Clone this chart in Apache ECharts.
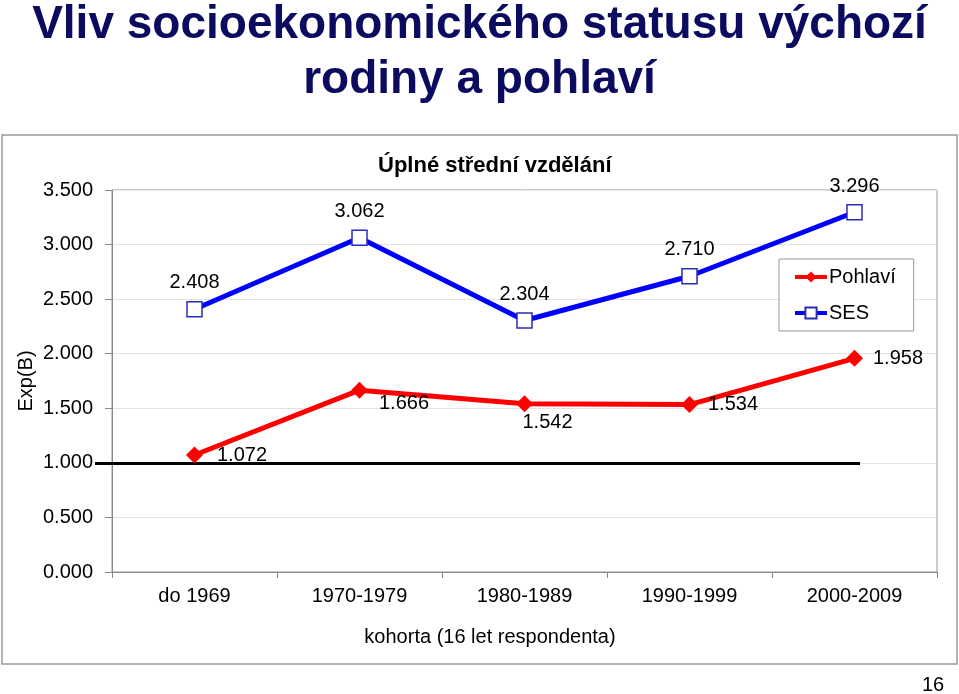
<!DOCTYPE html>
<html>
<head>
<meta charset="utf-8">
<script src="https://cdn.jsdelivr.net/npm/echarts@6/dist/echarts.min.js"></script>
<style>
html,body{margin:0;padding:0;background:#fff;}
#chart{width:959px;height:694px;}
</style>
</head>
<body>
<div id="chart"></div>
<script>
var categories = ['do 1969', '1970-1979', '1980-1989', '1990-1999', '2000-2009'];
var sesValues = [2.408, 3.062, 2.304, 2.710, 3.296];
var pohlaviValues = [1.072, 1.666, 1.542, 1.534, 1.958];
var referenceValue = 1.0;
var yTicks = { min: 0, max: 3.5, interval: 0.5 };

var FONT = '"Liberation Sans", Arial, sans-serif';

// label placement for Pohlaví points (styling only)
var pohlaviLabelStyle = [
  { position: 'right', distance: 14, offset: [0, 0] },
  { position: 'right', distance: 11, offset: [0, 13] },
  { position: 'bottom', distance: 0, offset: [23, 0] },
  { position: 'right', distance: 10, offset: [0, 0] },
  { position: 'right', distance: 10, offset: [0, 0] }
];

var chart = echarts.init(document.getElementById('chart'));
var fmt3 = function (v) { return Number(v).toFixed(3); };

var option = {
  animation: false,
  backgroundColor: '#ffffff',
  title: [
    {
      text: 'Vliv socioekonomického statusu výchozí\nrodiny a pohlaví',
      left: 'center',
      top: -7,
      textStyle: { fontFamily: FONT, fontSize: 46, fontWeight: 'bold', color: '#0b0b60', lineHeight: 55, align: 'center' }
    },
    {
      text: 'Úplné střední vzdělání',
      left: 373,
      top: 150,
      textStyle: { fontFamily: FONT, fontSize: 22, fontWeight: 'bold', color: '#000' }
    },
    {
      text: '16',
      left: 917,
      top: 670,
      textStyle: { fontFamily: FONT, fontSize: 20, fontWeight: 'normal', color: '#000' }
    }
  ],
  graphic: [
    {
      type: 'rect',
      shape: { x: 2, y: 135, width: 955, height: 529 },
      style: { fill: 'none', stroke: '#9a9a9a', lineWidth: 1.5 },
      silent: true,
      z: -1
    }
  ],
  legend: {
    orient: 'vertical',
    left: 779,
    top: 259,
    padding: [8, 18, 8, 14],
    itemGap: 16,
    itemWidth: 32,
    itemHeight: 14,
    borderColor: '#999',
    borderWidth: 1,
    backgroundColor: '#fff',
    textStyle: { fontFamily: FONT, fontSize: 20, color: '#000', padding: [0, 0, 0, -3] },
    data: [
      { name: 'Pohlaví', lineStyle: { width: 4, color: '#ff0000' } },
      { name: 'SES', lineStyle: { width: 4, color: '#0000ff' } }
    ]
  },
  grid: {
    left: 112,
    right: 22,
    top: 190,
    bottom: 122,
    show: true,
    borderColor: '#999',
    borderWidth: 1
  },
  xAxis: {
    type: 'category',
    data: categories,
    boundaryGap: true,
    name: 'kohorta (16 let respondenta)',
    nameLocation: 'middle',
    nameGap: 55,
    nameMoveOverlap: false,
    nameTextStyle: { fontFamily: FONT, fontSize: 20, color: '#000', padding: [0, 69, 0, 0] },
    axisLine: { show: true, lineStyle: { color: '#888', width: 1 } },
    axisTick: { show: true, length: 6, lineStyle: { color: '#888' } },
    axisLabel: { fontFamily: FONT, fontSize: 20, color: '#000', margin: 14 },
    splitLine: { show: false }
  },
  yAxis: {
    type: 'value',
    min: yTicks.min,
    max: yTicks.max,
    interval: yTicks.interval,
    name: 'Exp(B)',
    nameLocation: 'middle',
    nameGap: 76,
    nameMoveOverlap: false,
    nameRotate: 90,
    nameTextStyle: { fontFamily: FONT, fontSize: 20, color: '#000' },
    axisLine: { show: true, lineStyle: { color: '#888', width: 1 } },
    axisTick: { show: true, length: 7, lineStyle: { color: '#888' } },
    axisLabel: { fontFamily: FONT, fontSize: 20, color: '#000', margin: 19, formatter: fmt3 },
    splitLine: { show: true, lineStyle: { color: '#e2e2e2', width: 1 } }
  },
  series: [
    {
      name: 'Pohlaví',
      type: 'line',
      data: pohlaviValues.map(function (v, i) {
        var s = pohlaviLabelStyle[i];
        return { value: v, label: { position: s.position, distance: s.distance, offset: s.offset } };
      }),
      symbol: 'diamond',
      symbolSize: 17,
      lineStyle: { color: '#ff0000', width: 5 },
      itemStyle: { color: '#ff0000' },
      label: { show: true, formatter: function (p) { return fmt3(p.value); }, fontFamily: FONT, fontSize: 20, color: '#000' },
      z: 3,
      markLine: {
        silent: true,
        symbol: ['none', 'none'],
        label: { show: false },
        lineStyle: { color: '#000', width: 3, type: 'solid' },
        data: [[{ x: 95, yAxis: referenceValue }, { x: 860, yAxis: referenceValue }]],
        z: 2
      }
    },
    {
      name: 'SES',
      type: 'line',
      data: sesValues,
      symbol: 'rect',
      symbolSize: 15,
      lineStyle: { color: '#0000ff', width: 5 },
      itemStyle: { color: '#ffffff', borderColor: '#2b2bb5', borderWidth: 1.5 },
      label: { show: true, position: 'top', distance: 8, formatter: function (p) { return fmt3(p.value); }, fontFamily: FONT, fontSize: 20, color: '#000' },
      z: 3
    }
  ]
};
chart.setOption(option);
</script>
</body>
</html>
